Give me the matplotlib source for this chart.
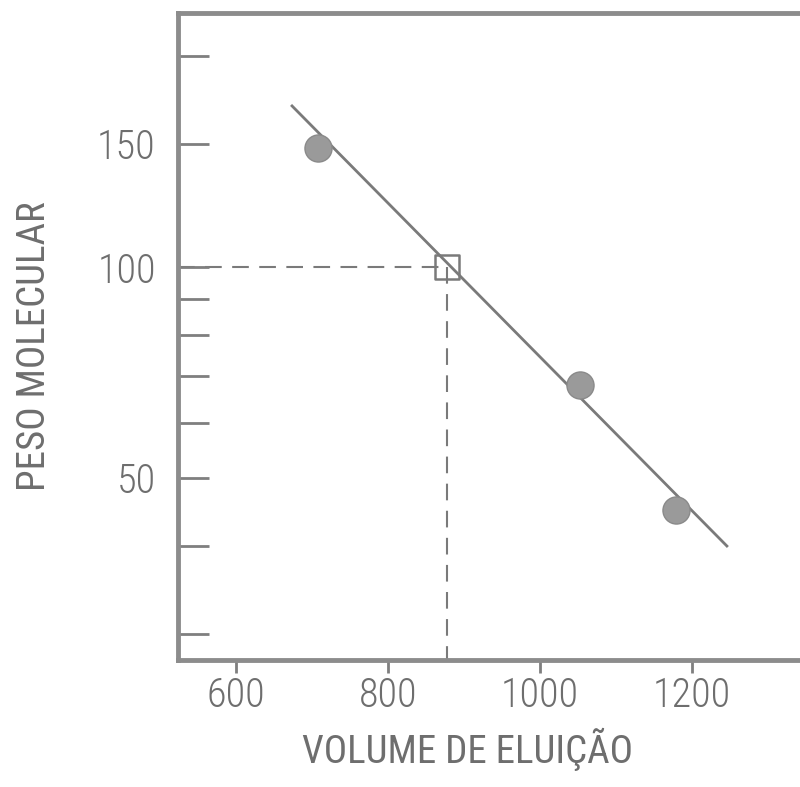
import matplotlib
matplotlib.use('Agg')
import matplotlib.pyplot as plt
from matplotlib.ticker import FixedLocator, NullFormatter, FixedFormatter

# calibration points (volume de eluicao vs peso molecular)
vol = [708, 1053, 1179]
pm = [148, 68, 45]

# fitted line endpoints, as drawn
line_vol = [674, 1246]
line_pm = [170, 40]

# unknown sample
unk_vol = 878
unk_pm = 100

major_y = [50, 100, 150]
minor_y = [30, 40, 60, 70, 80, 90, 200]
x_ticks = [600, 800, 1000, 1200]

plt.rcParams['font.family'] = ['Roboto Condensed', 'DejaVu Sans']
plt.rcParams['font.stretch'] = 'condensed'
plt.rcParams['font.weight'] = 'light'
grey = '#7a7a7a'
txt = '#6e6e6e'

fig = plt.figure(figsize=(8, 7.87), dpi=100)
ax = fig.add_axes([0.2225, 0.1614, 0.784, 0.822])
ax.set_yscale('log')
ax.set_xlim(524, 1349)
ax.set_ylim(27.5, 230.7)

ax.plot(line_vol, line_pm, color=grey, lw=2, zorder=2)
ax.scatter(vol, pm, s=380, color='#9a9a9a', edgecolor='#8a8a8a', zorder=3)

ax.plot([ax.get_xlim()[0], unk_vol], [unk_pm, unk_pm], color=grey, lw=1.5,
        dashes=(8, 5), zorder=1)
ax.plot([unk_vol, unk_vol], [unk_pm, ax.get_ylim()[0]], color=grey, lw=1.5,
        dashes=(8, 5), zorder=1)
ax.scatter([unk_vol], [unk_pm], s=300, marker='s', facecolor='none',
           edgecolor=grey, linewidth=1.8, zorder=4)

for s in ax.spines.values():
    s.set_color('#8c8c8c')
    s.set_linewidth(3.5)

ax.yaxis.set_major_locator(FixedLocator(major_y))
ax.yaxis.set_major_formatter(FixedFormatter([str(v) for v in major_y]))
ax.yaxis.set_minor_locator(FixedLocator(minor_y))
ax.yaxis.set_minor_formatter(NullFormatter())
ax.tick_params(axis='y', which='both', direction='in', length=22, width=2,
               color='#7f7f7f', pad=16, labelsize=29, labelcolor=txt)
ax.set_xticks(x_ticks)
ax.tick_params(axis='x', direction='out', length=9, width=2, color='#7f7f7f',
               pad=3, labelsize=29, labelcolor=txt)

ax.set_ylabel('PESO MOLECULAR', fontsize=28, color=txt)
ax.set_xlabel('VOLUME DE ELUIÇÃO', fontsize=28, color=txt)
ax.yaxis.set_label_coords(-0.200, 0.485)
ax.xaxis.set_label_coords(0.461, -0.105)

fig.savefig('out.png', dpi=100)
